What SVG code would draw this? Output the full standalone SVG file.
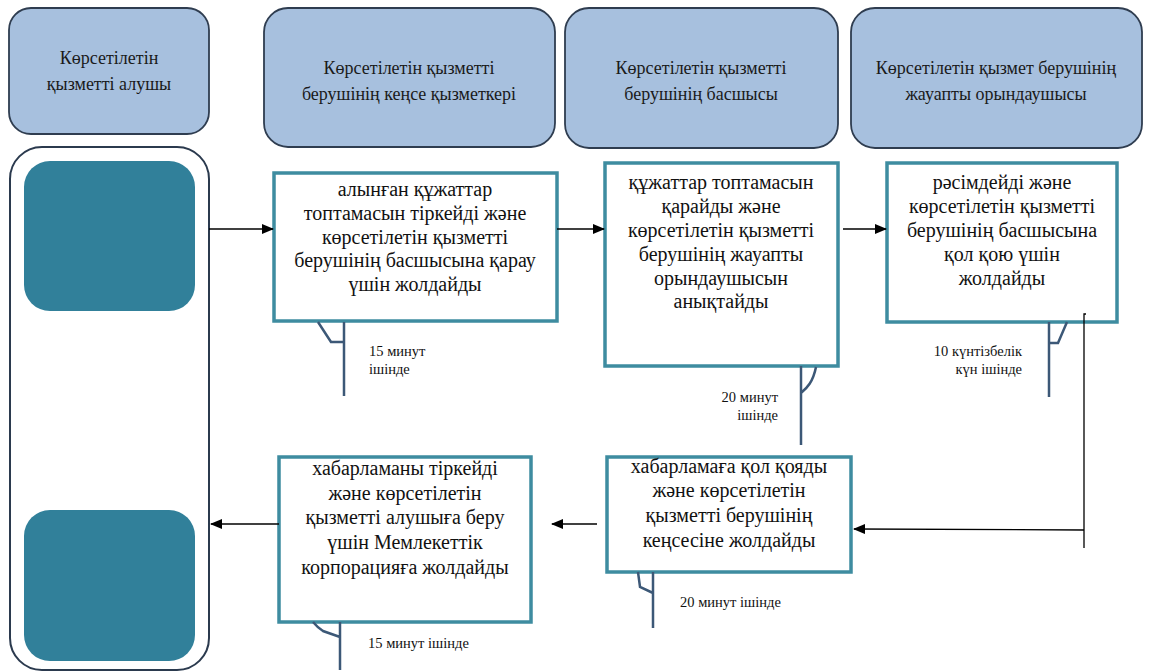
<svg xmlns="http://www.w3.org/2000/svg" width="1149" height="672" viewBox="0 0 1149 672">
<style>
.hdr{fill:#a7c0de;stroke:#2f3d50;stroke-width:1.8}
.lane{fill:#fff;stroke:#2b3a4e;stroke-width:2}
.teal{fill:#31809a}
.proc{fill:#fff;stroke:#3e8ca0;stroke-width:3.5}
.cl{fill:none;stroke:#3c5877;stroke-width:2.5}
.ar{fill:none;stroke:#000;stroke-width:1.3}
</style>
<defs>
<marker id="ah" markerWidth="12" markerHeight="10" refX="11" refY="5" orient="auto" markerUnits="userSpaceOnUse">
<path d="M0,0 L12,5 L0,10 Z" fill="#000"/>
</marker>
</defs>
<rect width="1149" height="672" fill="#fff"/>

<g font-family="Liberation Serif, serif" font-size="18" fill="#1a1a1a" text-anchor="middle">
<g id="lane-recipient">
<rect class="hdr" x="9" y="8" width="200" height="126" rx="22"/>
<text x="109" y="64">Көрсетілетін</text>
<text x="109" y="90">қызметті алушы</text>
</g>
<g id="lane-office">
<rect class="hdr" x="264" y="8" width="291" height="139" rx="24"/>
<text x="409" y="74">Көрсетілетін қызметті</text>
<text x="409" y="100">берушінің кеңсе қызметкері</text>
</g>
<g id="lane-head">
<rect class="hdr" x="565" y="8" width="273" height="140" rx="24"/>
<text x="701" y="74">Көрсетілетін қызметті</text>
<text x="701" y="100">берушінің басшысы</text>
</g>
<g id="lane-executor">
<rect class="hdr" x="851" y="8" width="291" height="140" rx="24"/>
<text x="996" y="74">Көрсетілетін қызмет берушінің</text>
<text x="996" y="100">жауапты орындаушысы</text>
</g>
</g>

<g id="recipient-column">
<rect class="lane" x="10" y="147" width="199" height="523" rx="32"/>
<rect id="start" class="teal" x="24" y="161" width="171" height="150" rx="26"/>
<rect id="end" class="teal" x="24" y="510" width="171" height="151" rx="26"/>
</g>

<g font-family="Liberation Serif, serif" font-size="20" fill="#111" text-anchor="middle">
<g id="step1">
<rect class="proc" x="274" y="173" width="283" height="148"/>
<text x="415" y="196">алынған құжаттар</text>
<text x="415" y="220">топтамасын тіркейді және</text>
<text x="415" y="244">көрсетілетін қызметті</text>
<text x="415" y="267">берушінің басшысына қарау</text>
<text x="415" y="291">үшін жолдайды</text>
</g>
<g id="step2">
<rect class="proc" x="605" y="163" width="233" height="203"/>
<text x="721" y="189">құжаттар топтамасын</text>
<text x="721" y="213">қарайды және</text>
<text x="721" y="237">көрсетілетін қызметті</text>
<text x="721" y="261">берушінің жауапты</text>
<text x="721" y="285">орындаушысын</text>
<text x="721" y="308">анықтайды</text>
</g>
<g id="step3">
<rect class="proc" x="887" y="163" width="230" height="159"/>
<text x="1002" y="189">рәсімдейді және</text>
<text x="1002" y="213">көрсетілетін қызметті</text>
<text x="1002" y="237">берушінің басшысына</text>
<text x="1002" y="261">қол қою үшін</text>
<text x="1002" y="285">жолдайды</text>
</g>
<g id="step4">
<rect class="proc" x="607" y="457" width="244" height="115"/>
<text x="729" y="473">хабарламаға қол қояды</text>
<text x="729" y="497">және көрсетілетін</text>
<text x="729" y="522">қызметті берушінің</text>
<text x="729" y="547">кеңсесіне жолдайды</text>
</g>
<g id="step5">
<rect class="proc" x="279" y="457" width="252" height="165"/>
<text x="405" y="475">хабарламаны тіркейді</text>
<text x="405" y="500">және көрсетілетін</text>
<text x="405" y="524">қызметті алушыға беру</text>
<text x="405" y="549">үшін Мемлекеттік</text>
<text x="405" y="574">корпорацияға жолдайды</text>
</g>
</g>

<g id="time-notes" font-family="Liberation Serif, serif" font-size="14.5" fill="#111">
<path class="cl" d="M344,322 V396 M318,322 L331,342 H344"/>
<text x="369" y="356">15 минут</text>
<text x="369" y="374">ішінде</text>
<path class="cl" d="M801,366 V445 M801,393 C807,388 813,382 816,367"/>
<text x="778" y="402" text-anchor="end">20 минут</text>
<text x="778" y="420" text-anchor="end">ішінде</text>
<path class="cl" d="M1049,322 V397 M1049,343 H1058 L1067,322"/>
<text x="1022" y="356" text-anchor="end">10 күнтізбелік</text>
<text x="1022" y="374" text-anchor="end">күн ішінде</text>
<path class="cl" d="M653,572 V628 M638,572 L640,587 L653,593"/>
<text x="680" y="607">20 минут ішінде</text>
<path class="cl" d="M340,622 V670 M313,622 Q318,628 323,631 L340,637"/>
<text x="368" y="648">15 минут ішінде</text>
</g>

<g id="connectors">
<line class="ar" x1="209" y1="229" x2="273" y2="229" marker-end="url(#ah)"/>
<line class="ar" x1="557" y1="229" x2="604" y2="229" marker-end="url(#ah)"/>
<line class="ar" x1="843" y1="229" x2="886" y2="229" marker-end="url(#ah)"/>
<path class="ar" d="M1086,314 H1084 V548"/>
<line class="ar" x1="1084" y1="530" x2="854" y2="529" marker-end="url(#ah)"/>
<line class="ar" x1="597" y1="524" x2="552" y2="524" marker-end="url(#ah)"/>
<line class="ar" x1="279" y1="524" x2="211" y2="524" marker-end="url(#ah)"/>
</g>
</svg>
